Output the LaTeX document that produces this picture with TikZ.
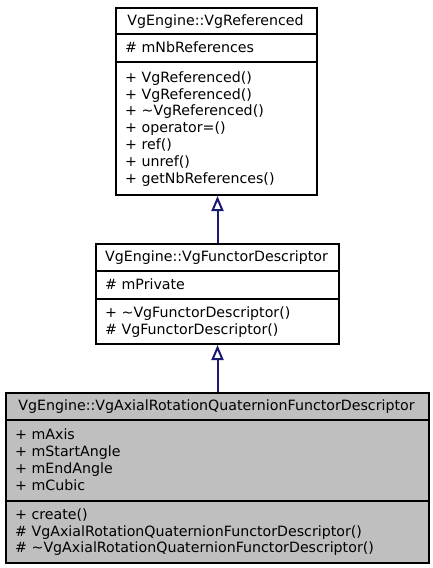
\documentclass[tikz,border=0pt]{standalone}
\usepackage{fontspec}
\setmainfont{DejaVu Sans}
\usetikzlibrary{arrows.meta}
\definecolor{edgeblue}{HTML}{191970}
\definecolor{boxgrey}{HTML}{BFBFBF}
\newcommand\lstrut{\rule[-3.8pt]{0pt}{16.8pt}}
\begin{document}
\begin{tikzpicture}[x=1pt,y=-1pt,
  umlbox/.style={draw=black, line width=2pt, inner sep=0pt, anchor=north west},
  sepline/.style={draw=black, line width=2pt},
  txt/.style={inner sep=0pt, font=\fontsize{14.2}{16.8}\selectfont, align=left, anchor=west},
  hdr/.style={inner sep=0pt, font=\fontsize{14.2}{16.8}\selectfont, anchor=center},
  inherit/.style={draw=edgeblue, line width=2pt, -{Triangle[open, width=12pt, length=15pt, line width=2pt]}}
]
\useasboundingbox (0,0) rectangle (432,568);

% ---- VgReferenced
\node[umlbox, fill=white, minimum width=201pt, minimum height=187pt] (ref) at (115,7) {};
\draw[sepline] (115,34) -- (316,34);
\draw[sepline] (115,62) -- (316,62);
\node[hdr] (refh) at (215.5,20.5) {\lstrut VgEngine::VgReferenced};
\node[txt] (refa) at (125,48) {\lstrut\# mNbReferences};
\node[txt] (refm) at (125,128) {\lstrut+ VgReferenced()\\
\lstrut+ VgReferenced()\\
\lstrut+ \textasciitilde VgReferenced()\\
\lstrut+ operator=()\\
\lstrut+ ref()\\
\lstrut+ unref()\\
\lstrut+ getNbReferences()};

% ---- VgFunctorDescriptor
\node[umlbox, fill=white, minimum width=243pt, minimum height=100pt] (func) at (95,243) {};
\draw[sepline] (95,271) -- (338,271);
\draw[sepline] (95,299) -- (338,299);
\node[hdr] (funch) at (216.5,257) {\lstrut VgEngine::VgFunctorDescriptor};
\node[txt] (funca) at (105,285) {\lstrut\# mPrivate};
\node[txt] (funcm) at (105,321) {\lstrut+ \textasciitilde VgFunctorDescriptor()\\
\lstrut\# VgFunctorDescriptor()};

% ---- VgAxialRotationQuaternionFunctorDescriptor
\node[umlbox, fill=boxgrey, minimum width=423pt, minimum height=170pt] (leaf) at (5,392) {};
\draw[sepline] (5,420) -- (428,420);
\draw[sepline] (5,501) -- (428,501);
\node[hdr] (leafh) at (216.5,406) {\lstrut VgEngine::VgAxialRotationQuaternionFunctorDescriptor};
\node[txt] (leafa) at (15,460.5) {\lstrut+ mAxis\\
\lstrut+ mStartAngle\\
\lstrut+ mEndAngle\\
\lstrut+ mCubic};
\node[txt] (leafm) at (15,531.5) {\lstrut+ create()\\
\lstrut\# VgAxialRotationQuaternionFunctorDescriptor()\\
\lstrut\# \textasciitilde VgAxialRotationQuaternionFunctorDescriptor()};

% ---- inheritance connectors
\draw[inherit] (func.north) -- (func.north |- ref.south);
\draw[inherit] (leaf.north) -- (leaf.north |- func.south);
\end{tikzpicture}
\end{document}
